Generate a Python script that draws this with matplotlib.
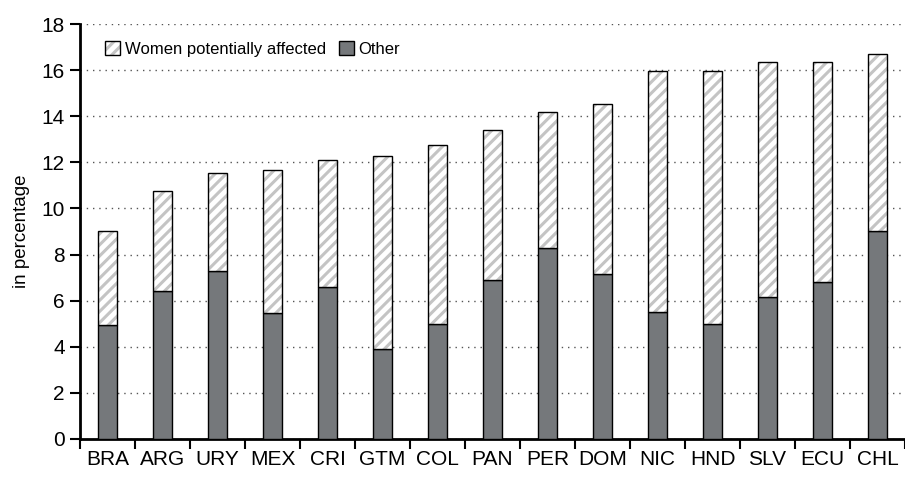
import numpy as np
import matplotlib.pyplot as plt
from matplotlib.patches import Patch

plt.rcParams['font.family'] = ['Liberation Sans', 'DejaVu Sans']
plt.rcParams['hatch.linewidth'] = 2.2

countries = ['BRA', 'ARG', 'URY', 'MEX', 'CRI', 'GTM', 'COL', 'PAN', 'PER', 'DOM',
             'NIC', 'HND', 'SLV', 'ECU', 'CHL']
total = [9.0, 10.75, 11.55, 11.65, 12.1, 12.3, 12.75, 13.4, 14.2, 14.55,
         15.95, 15.95, 16.35, 16.35, 16.7]
other = [4.95, 6.4, 7.3, 5.45, 6.6, 3.9, 5.0, 6.9, 8.3, 7.15,
         5.5, 5.0, 6.15, 6.8, 9.0]
women = [t - o for t, o in zip(total, other)]

dark = '#75787b'
hatchgray = '#c4c4c4'

fig = plt.figure(figsize=(9.05, 4.95), dpi=100)
ax = fig.add_axes([0.0884, 0.1137, 0.9116, 0.8373])

x = np.arange(len(countries))
w = 0.35
ax.bar(x, other, w, color=dark, edgecolor='black', linewidth=1.0, zorder=3)
# hatched part: hatch drawn in light gray, then black outline on top
ax.bar(x, women, w, bottom=other, color='white', edgecolor=hatchgray, hatch='///',
       linewidth=0, zorder=3)
ax.bar(x, women, w, bottom=other, fill=False, edgecolor='black', linewidth=1.0, zorder=4)

ax.set_xlim(-0.5, len(countries) - 0.5)
ax.set_ylim(0, 18)
ax.set_yticks(np.arange(0, 19, 2))
ax.set_xticks(x)
ax.set_xticklabels(countries)
ax.set_xticks(np.arange(-0.5, len(countries), 1), minor=True)
ax.tick_params(axis='x', which='major', length=0, labelsize=15, pad=8)
ax.tick_params(axis='x', which='minor', length=7, width=1.5, direction='out')
ax.tick_params(axis='y', length=7, width=1.5, labelsize=15, pad=4)
ax.set_ylabel('in percentage', fontsize=13.5, labelpad=8)

ax.grid(axis='y', linestyle=(0, (1, 3.5)), color='#555555', linewidth=1.0, zorder=0)
for s in ['top', 'right']:
    ax.spines[s].set_visible(False)
for s in ['left', 'bottom']:
    ax.spines[s].set_linewidth(2)

h1 = (Patch(facecolor='white', edgecolor=hatchgray, hatch='///', linewidth=0),
      Patch(fill=False, edgecolor='black', linewidth=1.0))
h2 = Patch(facecolor=dark, edgecolor='black', linewidth=1.0)
ax.legend([h1, h2], ['Women potentially affected', 'Other'], loc='upper left',
          bbox_to_anchor=(0.012, 0.995), ncol=2, frameon=False, fontsize=12,
          handlelength=0.9, handleheight=0.9, handletextpad=0.3, columnspacing=0.75)

fig.savefig('out.png', dpi=100)
